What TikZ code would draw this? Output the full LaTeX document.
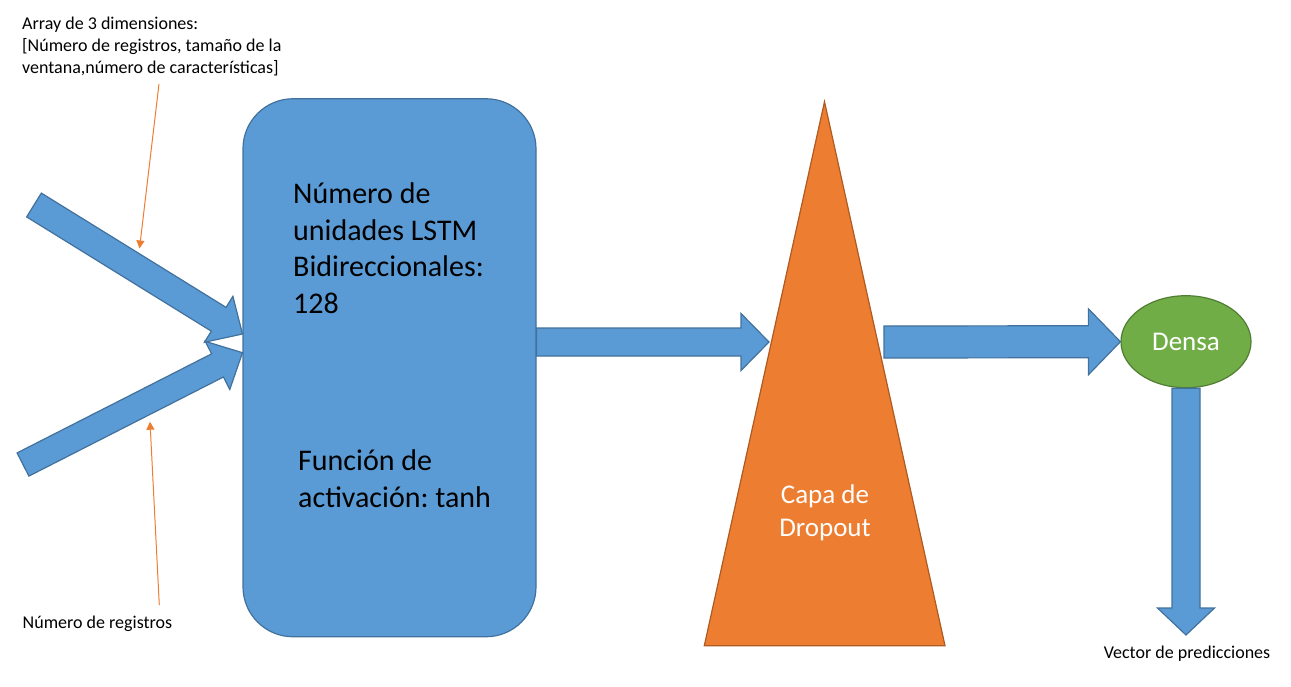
\documentclass[tikz,border=0pt]{standalone}
\usepackage{fontspec}
\setmainfont{Carlito}
\frenchspacing
\usetikzlibrary{calc,arrows.meta,shapes.geometric}

\definecolor{lstmblue}{HTML}{5B9BD5}
\definecolor{lstmedge}{HTML}{41719C}
\definecolor{dropfill}{HTML}{ED7D31}
\definecolor{dropedge}{HTML}{AE5A21}
\definecolor{densefill}{HTML}{70AD47}
\definecolor{denseedge}{HTML}{507E32}

% block arrow: from, to, shaft half width, head half width, head length
\newcommand{\blockarrow}[5]{%
  \draw[bigarrow] let \p1 = ($(#2)-(#1)$), \n1 = {atan2(\y1,\x1)}, \n2 = {veclen(\x1,\y1)} in
    [shift={(#1)}, rotate=\n1]
    (0,#3) -- ({\n2-#5},#3) -- ({\n2-#5},#4) -- (\n2,0)
    -- ({\n2-#5},-#4) -- ({\n2-#5},-#3) -- (0,-#3) -- cycle;
}

\begin{document}
\begin{tikzpicture}[x=1pt, y=-1pt,
    bigarrow/.style={fill=lstmblue, draw=lstmedge, line width=1.2pt, line join=miter},
    notearrow/.style={draw=dropfill, line width=1pt, -{Triangle[width=8pt,length=8pt]}},
    smalltext/.style={font=\fontsize{18}{22}\selectfont, align=left, inner sep=0pt},
    bigtext/.style={font=\fontsize{30}{36.6}\selectfont, align=left, inner sep=0pt},
    whitetext/.style={font=\fontsize{27}{33}\selectfont, text=white, align=center, inner sep=0pt}]

    \useasboundingbox (0,0) rectangle (1291,686);

    % LSTM block
    \node[draw=lstmedge, fill=lstmblue, line width=1.2pt, rounded corners=50pt,
          minimum width=293pt, minimum height=538pt] (lstm) at (389.5,367.75) {};
    \node[bigtext, anchor=base west] (units) at (293,313.3) {Número de\\unidades LSTM\\Bidireccionales:\\128};
    \node[bigtext, anchor=base west] (activ) at (298,507) {Función de\\activación: tanh};

    % Dropout
    \coordinate (dropTop) at (824.5,101.7);
    \coordinate (dropLeft) at (704.3,645.7);
    \coordinate (dropRight) at (945,645.7);
    \draw[fill=dropfill, draw=dropedge, line width=1.2pt] (dropTop) -- (dropRight) -- (dropLeft) -- cycle;
    \node[whitetext, anchor=base] (dropText) at (825,536.7) {Capa de\\Dropout};

    % Densa
    \node[ellipse, draw=denseedge, fill=densefill, line width=1.2pt, minimum width=130pt,
          minimum height=92pt, text=white, font=\fontsize{27}{33}\selectfont] (dense) at (1186,341.7) {Densa};

    % labels
    \node[smalltext, anchor=base west] (dimLabel) at (22,73.3) {Array de 3 dimensiones:\\{[}Número de registros, tamaño de la\\ventana,número de características]};
    \node[smalltext, anchor=base west] (regLabel) at (22.5,628) {Número de registros};
    \node[smalltext, anchor=base] (predLabel) at (1187,658) {Vector de predicciones};

    % arrow ends
    \coordinate (upTail) at (34,205);
    \coordinate (upTip) at (242.5,334);
    \coordinate (lowTail) at (23,464.5);
    \coordinate (lowTip) at (242.5,352.7);
    \coordinate (dropIn) at (769,342);
    \coordinate (lstmOut) at (lstm.east |- dropIn);
    \coordinate (dropOut) at (884,342);
    \coordinate (predTip) at (1186,635);

    \blockarrow{upTail}{upTip}{14}{27}{28}
    \blockarrow{lowTail}{lowTip}{13}{27}{28}
    \blockarrow{lstmOut}{dropIn}{14}{28.5}{28}
    \blockarrow{dropOut}{dense.west}{16}{33}{32}
    \blockarrow{dense.south}{predTip}{14}{28.5}{27}

    % notes
    \coordinate (dimFrom) at (159,84);
    \coordinate (dimTo) at (139.5,248.5);
    \coordinate (regFrom) at (159.3,605);
    \coordinate (regTo) at (150,421.7);
    \draw[notearrow] (dimFrom) -- (dimTo);
    \draw[notearrow] (regFrom) -- (regTo);

\end{tikzpicture}
\end{document}
